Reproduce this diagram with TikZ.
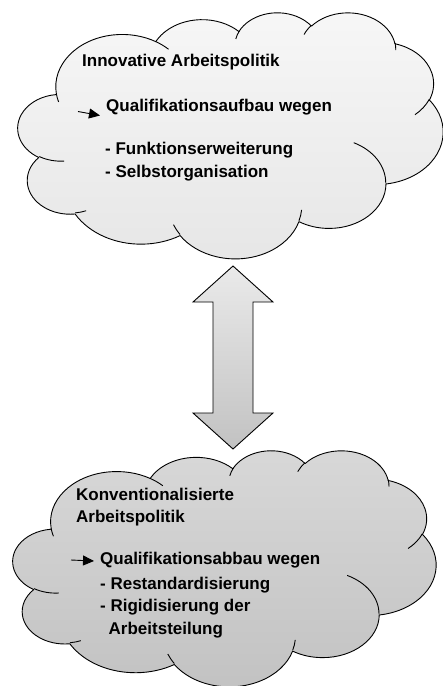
\documentclass[tikz,border=0pt]{standalone}
\usepackage{fontspec}
\setmainfont{Liberation Sans}
\usetikzlibrary{arrows.meta}

\newcommand\ooang[5]{%
  \pgfmathsetmacro\ootmpa{atan2((#2)*sin(#4),(#3)*cos(#4))}%
  \pgfmathsetmacro\ootmpa{\ootmpa+360*round(((#4)-\ootmpa)/360)}%
  \pgfmathsetmacro\ootmpb{atan2((#2)*sin((#4)+(#5)),(#3)*cos((#4)+(#5)))}%
  \pgfmathsetmacro\ootmpb{\ootmpb+360*round(((#4)+(#5)-\ootmpb)/360)}%
  \pgfmathsetmacro\ootmpc{\ootmpb-\ootmpa}%
  \expandafter\xdef\csname oos#1\endcsname{\ootmpa}%
  \expandafter\xdef\csname ood#1\endcsname{\ootmpc}%
}

\newcommand\drawcloud[6]{%
  \pgfmathsetmacro\cxu{#3/432}%
  \pgfmathsetmacro\cyu{#4/432}%
  \begin{scope}[xshift=#1pt, yshift=-#2pt, x=\cxu pt, y=-\cyu pt]
    \path[cloudline, top color=#5, bottom color=#6]
      (39,143.7)
      arc[start angle=\oosA, delta angle=\oodA, x radius=67.53, y radius=91.90]
      arc[start angle=\oosB, delta angle=\oodB, x radius=53.33, y radius=72.67]
      arc[start angle=\oosC, delta angle=\oodC, x radius=43.65, y radius=59.45]
      arc[start angle=\oosD, delta angle=\oodD, x radius=48.57, y radius=65.95]
      arc[start angle=\oosE, delta angle=\oodE, x radius=53.33, y radius=72.73]
      arc[start angle=\oosF, delta angle=\oodF, x radius=67.75, y radius=92.20]
      arc[start angle=\oosG, delta angle=\oodG, x radius=57.85, y radius=78.67]
      arc[start angle=\oosH, delta angle=\oodH, x radius=67.52, y radius=92.15]
      arc[start angle=\oosI, delta angle=\oodI, x radius=77.20, y radius=105.43]
      arc[start angle=\oosJ, delta angle=\oodJ, x radius=43.60, y radius=59.18]
      arc[start angle=\oosK, delta angle=\oodK, x radius=43.45, y radius=59.45]
      -- cycle;
    \path[cloudline]
      (46.93,261.77) arc[start angle=\oosa, delta angle=\ooda, x radius=43.45, y radius=59.45]
      (69.28,348.99) arc[start angle=\oosb, delta angle=\oodb, x radius=43.60, y radius=59.18]
      (164.78,390.90) arc[start angle=\oosc, delta angle=\oodc, x radius=67.52, y radius=92.15]
      (288.27,347.51) arc[start angle=\oosd, delta angle=\oodd, x radius=67.52, y radius=92.15]
      (341.29,229.54) arc[start angle=\oose, delta angle=\oode, x radius=57.85, y radius=78.67]
      (417.98,153.54) arc[start angle=\oosf, delta angle=\oodf, x radius=53.33, y radius=72.73]
      (383.24,54.26) arc[start angle=\oosg, delta angle=\oodg, x radius=48.57, y radius=65.95]
      (290.78,39.52) arc[start angle=\oosh, delta angle=\oodh, x radius=48.57, y radius=65.95]
      (221.41,47.20) arc[start angle=\oosi, delta angle=\oodi, x radius=43.65, y radius=59.45]
      (140.00,51.92) arc[start angle=\oosj, delta angle=\oodj, x radius=67.53, y radius=91.90]
      (41.27,157.89) arc[start angle=\oosk, delta angle=\oodk, x radius=67.53, y radius=91.90];
  \end{scope}}

\definecolor{topcloudA}{HTML}{F7F7F7}
\definecolor{topcloudB}{HTML}{E6E6E6}
\definecolor{botcloudA}{HTML}{D8D8D8}
\definecolor{botcloudB}{HTML}{C2C2C2}
\definecolor{arrowA}{HTML}{EAEAEA}
\definecolor{arrowB}{HTML}{C2C2C2}

\tikzset{
  cloudline/.style={draw=black, line width=0.9pt, line join=round},
  lbl/.style={anchor=base west, inner sep=0pt, text=black,
    font=\bfseries\fontsize{17}{20}\selectfont},
  pointer/.style={draw=black, line width=0.9pt,
    -{Triangle[length=11pt, width=10pt]}},
}

\begin{document}
\begin{tikzpicture}[x=1pt, y=-1pt]
  \ooang{A}{67.53}{91.90}{-190.48748}{123.78053}
  \ooang{B}{53.33}{72.67}{-144.10238}{89.94523}
  \ooang{C}{43.65}{59.45}{-145.80792}{99.72302}
  \ooang{D}{48.57}{65.95}{-130.98607}{117.24173}
  \ooang{E}{53.33}{72.73}{-78.70888}{109.02692}
  \ooang{F}{67.75}{92.20}{-46.26725}{130.26900}
  \ooang{G}{57.85}{78.67}{0.62502}{114.03333}
  \ooang{H}{67.52}{92.15}{22.45160}{115.17255}
  \ooang{I}{77.20}{105.43}{66.24263}{75.71102}
  \ooang{J}{43.60}{59.18}{-274.94208}{146.73557}
  \ooang{K}{43.45}{59.45}{-246.82850}{152.51885}
  \ooang{a}{43.45}{59.45}{86.742}{26.4295}
  \ooang{b}{43.60}{59.18}{73.61047}{11.44747}
  \ooang{c}{67.52}{92.15}{137.62415}{14.0811}
  \ooang{d}{67.52}{92.15}{6.45327}{15.99835}
  \ooang{e}{57.85}{78.67}{-70.29235}{70.91737}
  \ooang{f}{53.33}{72.73}{30.31803}{27.7515}
  \ooang{g}{48.57}{65.95}{-13.74433}{14.8589}
  \ooang{h}{48.57}{65.95}{-149.18145}{18.19537}
  \ooang{i}{43.65}{59.45}{-163.49427}{17.68635}
  \ooang{j}{67.53}{91.90}{-66.70695}{12.31935}
  \ooang{k}{67.53}{91.90}{157.65435}{11.85817}

  \fill[white] (0,0) rectangle (443,686);
  \useasboundingbox (0,0) rectangle (443,686);

  % top cloud
  \drawcloud{18}{12}{425}{246}{topcloudA}{topcloudB}
  % bottom cloud
  \drawcloud{13}{450}{423}{236}{botcloudA}{botcloudB}

  % double arrow
  \path[draw=black, line width=0.9pt, line join=miter, top color=arrowA, bottom color=arrowB]
    (233,266) -- (273,302) -- (253,302) -- (253,413) -- (273,413) -- (233,449)
    -- (193,413) -- (213,413) -- (213,302) -- (193,302) -- cycle;

  % top cloud text
  \node[lbl] (t1) at (82,66) {Innovative Arbeitspolitik};
  \node[lbl] (t2) at (106,111) {Qualifikationsaufbau wegen};
  \node[lbl] (t3) at (105,154) {- Funktionserweiterung};
  \node[lbl] (t4) at (105,177) {- Selbstorganisation};
  \coordinate (p1s) at (78,111.5);
  \coordinate (p1e) at (100,115.5);
  \draw[pointer] (p1s) -- (p1e);

  % bottom cloud text
  \node[lbl] (b1) at (76,500) {Konventionalisierte};
  \node[lbl] (b2) at (76,522.5) {Arbeitspolitik};
  \node[lbl] (b3) at (100,564.5) {Qualifikationsabbau wegen};
  \node[lbl] (b4) at (100,589) {- Restandardisierung};
  \node[lbl] (b5) at (100,611.7) {- Rigidisierung der};
  \node[lbl] (b6) at (108.5,634) {Arbeitsteilung};
  \coordinate (p2s) at (71,560);
  \coordinate (p2e) at (94,561);
  \draw[pointer] (p2s) -- (p2e);
\end{tikzpicture}
\end{document}
